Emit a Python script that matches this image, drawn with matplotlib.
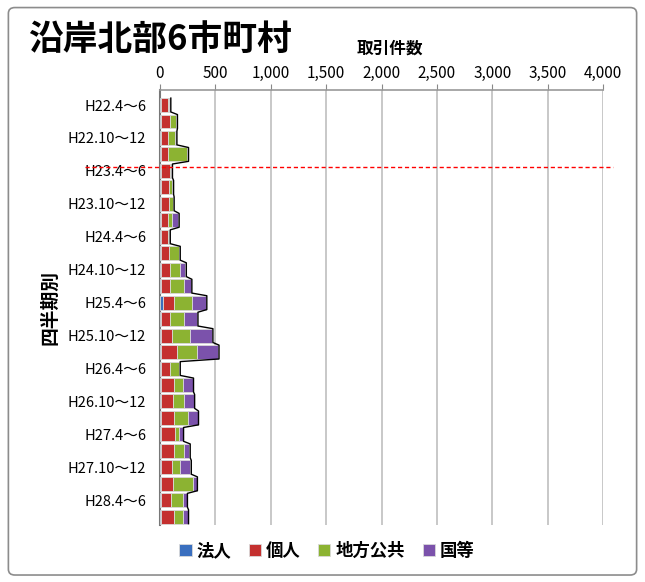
import matplotlib
matplotlib.use("Agg")
import matplotlib.pyplot as plt
from matplotlib.patches import FancyBboxPatch
import matplotlib.transforms as mtransforms
import numpy as np

plt.rcParams['font.family'] = ['Noto Sans CJK JP', 'DejaVu Sans']

categories = [
    "H22.4～6", "H22.7～9", "H22.10～12", "H23.1～3",
    "H23.4～6", "H23.7～9", "H23.10～12", "H24.1～3",
    "H24.4～6", "H24.7～9", "H24.10～12", "H25.1～3",
    "H25.4～6", "H25.7～9", "H25.10～12", "H26.1～3",
    "H26.4～6", "H26.7～9", "H26.10～12", "H27.1～3",
    "H27.4～6", "H27.7～9", "H27.10～12", "H28.1～3",
    "H28.4～6", "H28.7～9",
]
houjin = [5, 5, 5, 5, 5, 5, 5, 5, 5, 5, 5, 5,
          25, 5, 5, 5, 5, 10, 10, 5, 10, 10, 10, 5, 5, 5]
kojin = [70, 90, 70, 70, 85, 75, 75, 70, 65, 75, 90, 85,
         105, 85, 105, 145, 90, 115, 105, 120, 125, 115, 95, 115, 95, 125]
chihou = [10, 50, 65, 165, 10, 30, 35, 30, 10, 90, 85, 130,
          160, 125, 165, 180, 75, 80, 105, 125, 40, 95, 80, 180, 110, 80]
kuni = [5, 5, 5, 10, 5, 5, 5, 60, 5, 5, 50, 60,
        125, 120, 195, 195, 5, 90, 85, 90, 30, 45, 90, 30, 30, 40]
series_names = ["法人", "個人", "地方公共", "国等"]
series_colors = ["#3a6fbf", "#c4302f", "#8cb332", "#7b52ab"]
xticks = [0, 500, 1000, 1500, 2000, 2500, 3000, 3500, 4000]
quake_pos = 3.78

fig = plt.figure(figsize=(6.45, 5.82), dpi=100)
fig.patch.set_facecolor("white")
border = FancyBboxPatch((0.013, 0.012), 0.974, 0.975, boxstyle="round,pad=0,rounding_size=0.01",
                        transform=fig.transFigure, fill=False, edgecolor="#8c8c8c", linewidth=1.2)
fig.patches.append(border)

ax = fig.add_axes([0.248, 0.098, 0.687, 0.747])
y = np.arange(len(categories))
left = np.zeros(len(categories))
series = [houjin, kojin, chihou, kuni]
for name, vals, col in zip(series_names, series, series_colors):
    ax.barh(y, vals, left=left, height=0.85, color=col, edgecolor="#d9d9d9",
            linewidth=0.6, label=name, zorder=3)
    left = left + np.array(vals)

# outline tracing the right edge of the stacks (3D side edge)
xs, ys = [], []
for i, t in enumerate(left):
    xs += [t + 8, t + 8]
    ys += [i - 0.42, i + 0.42]
ax.plot(xs, ys, color="black", linewidth=1.0, zorder=4)

ax.set_xlim(0, 4000)
ax.set_ylim(25.5, -0.9)
ax.xaxis.tick_top()
ax.set_xticks(xticks)
ax.set_xticklabels([f"{v:,}" for v in xticks], fontsize=11)
ax.tick_params(axis="x", length=4, color="#888888", pad=2)
ax.set_yticks(y[::2])
ax.set_yticklabels(categories[::2], fontsize=10.5)
ax.tick_params(axis="y", length=0, pad=10)
ax.grid(axis="x", color="#bfbfbf", linewidth=1.2, zorder=0)
for s in ["right", "bottom"]:
    ax.spines[s].set_visible(False)
ax.spines["top"].set_color("#999999")
ax.spines["top"].set_linewidth(1.2)
ax.spines["left"].set_color("#777777")
ax.spines["left"].set_linewidth(1.5)

trans = mtransforms.blended_transform_factory(ax.transAxes, ax.transData)
ax.plot([-0.169, 1.023], [quake_pos, quake_pos], transform=trans, color="red",
        linestyle=(0, (3, 2)), linewidth=1.0, clip_on=False, zorder=6)

fig.text(0.043, 0.932, "沿岸北部6市町村", fontsize=25, fontweight="bold", va="center", ha="left")
fig.text(0.605, 0.917, "取引件数", fontsize=12, fontweight="bold", va="center", ha="center")
fig.text(0.078, 0.471, "四半期別", fontsize=13.5, fontweight="bold", rotation=90, va="center", ha="center")

ax.legend(loc="center", bbox_to_anchor=(0.377, (0.053 - 0.098) / 0.747),
          ncol=4, frameon=False, prop={"size": 12.5, "weight": "bold"},
          handlelength=0.7, handleheight=0.7, handletextpad=0.3, columnspacing=1.0)

fig.savefig("out.png", dpi=100, facecolor="white")
